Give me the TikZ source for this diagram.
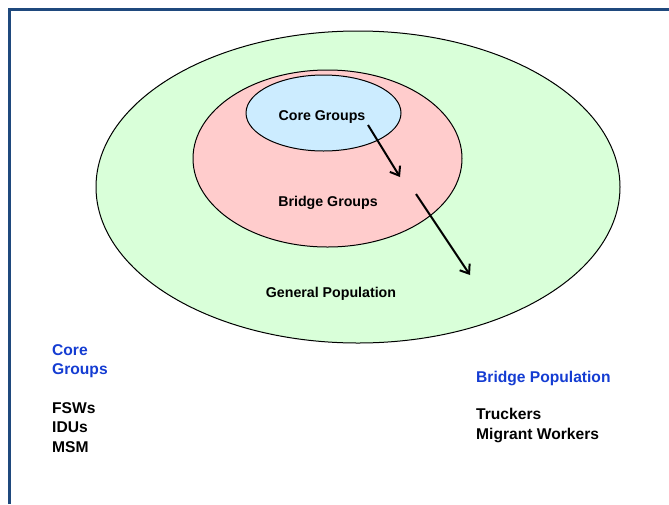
\documentclass[tikz,border=0pt]{standalone}
\usepackage{fontspec}
\setmainfont{Liberation Sans}
\usetikzlibrary{shapes.geometric,arrows.meta}
\definecolor{frameblue}{RGB}{31,73,125}
\definecolor{genfill}{RGB}{217,255,217}
\definecolor{bridgefill}{RGB}{255,204,204}
\definecolor{corefill}{RGB}{204,236,255}
\definecolor{headblue}{RGB}{20,60,210}
\tikzset{
  zone/.style={ellipse, draw=black, line width=1pt, inner sep=0pt},
  zonelabel/.style={font=\fontsize{14.2}{17}\selectfont\bfseries, text=black, inner sep=0pt},
  sidetext/.style={font=\fontsize{15.6}{19.5}\selectfont\bfseries, align=left, inner sep=0pt, anchor=north west},
  flow/.style={line width=2pt, -{Straight Barb[length=8pt,width=12pt,line width=2pt]}}
}
\begin{document}
\begin{tikzpicture}[x=1pt,y=-1pt]
\useasboundingbox (0,0) rectangle (669,504);
\draw[frameblue, line width=2.5pt] (9.5,504) -- (9.5,9.5) -- (669,9.5);
\node[zone, fill=genfill, minimum width=524pt, minimum height=312pt] (gen) at (358,187) {};
\node[zone, fill=bridgefill, minimum width=269pt, minimum height=177pt] (bridge) at (327.5,158.5) {};
\node[zone, fill=corefill, minimum width=155pt, minimum height=76pt] (core) at (323.5,113) {};
\node[zonelabel] (corelbl) at (322,117) {Core Groups};
\node[zonelabel] (bridgelbl) at (328,203) {Bridge Groups};
\node[zonelabel] (genlbl) at (331,294) {General Population};
\coordinate (a1s) at (368,125);
\coordinate (a1e) at (400,177);
\coordinate (a2s) at (416,194);
\coordinate (a2e) at (470,275);
\draw[flow] (a1s) -- (a1e);
\draw[flow] (a2s) -- (a2e);
\node[sidetext, text=headblue] (corehead) at (52,344) {Core\\Groups};
\node[sidetext] (corelist) at (52,402) {FSWs\\IDUs\\MSM};
\node[sidetext, text=headblue] (bridgehead) at (476,371) {Bridge Population};
\node[sidetext] (bridgelist) at (476,408) {Truckers\\Migrant Workers};
\end{tikzpicture}
\end{document}
